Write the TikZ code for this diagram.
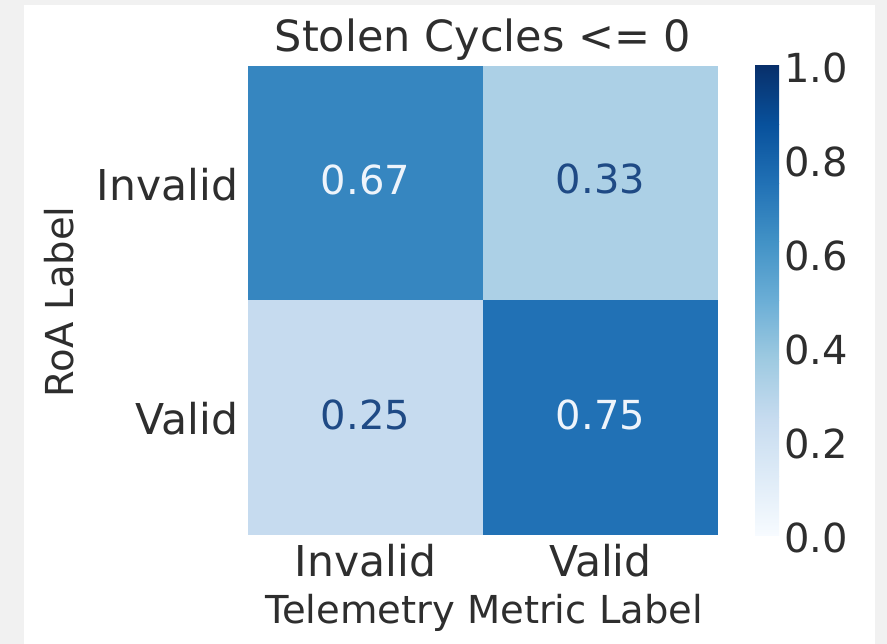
\documentclass[tikz,border=0pt]{standalone}
\usepackage{fontspec}
\setmainfont{DejaVu Sans}
\definecolor{bggray}{HTML}{F1F1F1}
\definecolor{labgray}{HTML}{2E2E2E}
\definecolor{cA}{HTML}{3686C0}
\definecolor{cB}{HTML}{ACD0E6}
\definecolor{cC}{HTML}{C6DBEF}
\definecolor{cD}{HTML}{2171B5}
\definecolor{darktxt}{HTML}{1F4A85}
\definecolor{lighttxt}{HTML}{EEF4FB}
\definecolor{b0}{HTML}{F7FBFF}
\definecolor{b1}{HTML}{DEEBF7}
\definecolor{b2}{HTML}{C6DBEF}
\definecolor{b3}{HTML}{9ECAE1}
\definecolor{b4}{HTML}{6BAED6}
\definecolor{b5}{HTML}{4292C6}
\definecolor{b6}{HTML}{2171B5}
\definecolor{b7}{HTML}{08519C}
\definecolor{b8}{HTML}{08306B}
\begin{document}
\begin{tikzpicture}[x=1pt,y=-1pt,
  every node/.style={inner sep=0pt,outer sep=0pt},
  lab/.style={font=\fontsize{41}{41}\selectfont, text=labgray},
  ticklab/.style={font=\fontsize{42.5}{42.5}\selectfont, text=labgray},
  titlelab/.style={font=\fontsize{43}{43}\selectfont, text=labgray},
  axlab/.style={font=\fontsize{38.5}{38.5}\selectfont, text=labgray},
  cbarlab/.style={font=\fontsize{40}{40}\selectfont, text=labgray},
  annot/.style={font=\fontsize{40}{40}\selectfont},
  cell/.style={draw=none, minimum width=235pt, minimum height=234.5pt}]
\useasboundingbox (0,0) rectangle (887,644);
\fill[bggray] (0,0) rectangle (887,644);
\fill[white] (24,5) rectangle (875,644);
% cells
\node[cell, fill=cA] (c11) at (365.5,183.25) {};
\node[cell, fill=cB] (c12) at (600.5,183.25) {};
\node[cell, fill=cC] (c21) at (365.5,417.75) {};
\node[cell, fill=cD] (c22) at (600.5,417.75) {};
% annotations
\node[annot, text=lighttxt, anchor=base] (a11) at (365.5,195) {0.67};
\node[annot, text=darktxt, anchor=base] (a12) at (600.5,194) {0.33};
\node[annot, text=darktxt, anchor=base] (a21) at (365.5,430) {0.25};
\node[annot, text=lighttxt, anchor=base] (a22) at (600.5,430) {0.75};
% title
\node[titlelab, anchor=base] (title) at (483,52) {Stolen Cycles <= 0};
% y tick labels
\node[ticklab, anchor=base east] (yt1) at (238,201) {Invalid};
\node[ticklab, anchor=base east] (yt2) at (238,435) {Valid};
% x tick labels
\node[ticklab, anchor=base] (xt1) at (365.5,576) {Invalid};
\node[ticklab, anchor=base] (xt2) at (600.5,576) {Valid};
% axis labels
\node[axlab, anchor=base] (xl) at (484,623) {Telemetry Metric Label};
\node[axlab, anchor=base, rotate=90] (yl) at (73,302) {RoA Label};
% colorbar
\foreach \i/\lo/\hi in {0/b0/b1,1/b1/b2,2/b2/b3,3/b3/b4,4/b4/b5,5/b5/b6,6/b6/b7,7/b7/b8}{
  \shade[bottom color=\lo, top color=\hi] (755,{535-58.625*\i}) rectangle (779,{535-58.625*(\i+1)});
}
\coordinate (cbar) at (767,300.5);
\foreach \v/\t in {0/0.0,1/0.2,2/0.4,3/0.6,4/0.8,5/1.0}{
  \node[cbarlab, anchor=base west] (ct\v) at (784,{535-93.8*\v+17}) {\t};
}
\end{tikzpicture}
\end{document}
